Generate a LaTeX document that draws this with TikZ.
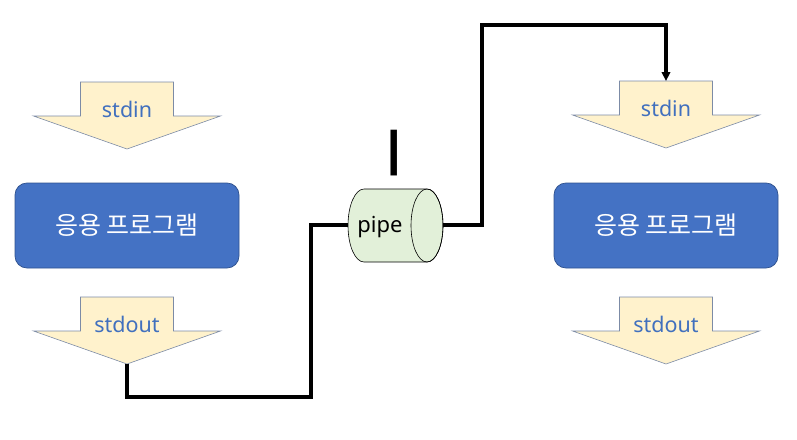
\documentclass[tikz,border=0pt]{standalone}
\usepackage{fontspec}
\setmainfont{Noto Sans CJK KR}
\newfontfamily\latinfont{Noto Sans}
\usepackage{tikz}
\usetikzlibrary{calc,arrows.meta}
\usepackage{xcolor}
\definecolor{streamfill}{HTML}{FFF2CC}
\definecolor{streamline}{HTML}{7C8BA6}
\definecolor{streamtext}{HTML}{4170BE}
\definecolor{appfill}{HTML}{4472C4}
\definecolor{appline}{HTML}{2F528F}
\definecolor{pipefill}{HTML}{E2F0D9}

\begin{document}
\begin{tikzpicture}[x=1pt,y=-1pt,
  flowarrow/.style={fill=streamfill,draw=streamline,line width=0.6pt},
  streamlabel/.style={inner sep=0pt,anchor=base,text=streamtext,font=\latinfont\fontsize{21.5}{24}\selectfont},
  appbox/.style={rectangle,rounded corners=12pt,fill=appfill,draw=appline,line width=0.75pt,
    minimum width=224pt,minimum height=85pt,text=white,font=\fontsize{25}{28}\selectfont},
  pipeline/.style={line width=3.2pt}]
  \useasboundingbox (0,0) rectangle (797,439);
  % stdin / stdout arrows
  \foreach \nm/\cx/\ty/\txt in {inL/127/82/stdin, outL/127/297/stdout, inR/666/81/stdin, outR/666/297/stdout}{
    \draw[flowarrow] (\cx-46.5,\ty) -- (\cx+46.5,\ty) -- (\cx+46.5,\ty+34) -- (\cx+93.5,\ty+34)
      -- (\cx,\ty+67) -- (\cx-93.5,\ty+34) -- (\cx-46.5,\ty+34) -- cycle;
    \node[streamlabel] (\nm) at (\cx,\ty+35) {\txt};
    \coordinate (\nm-top) at (\cx,\ty);
    \coordinate (\nm-tip) at (\cx,\ty+67);
  }
  % programs
  \node[appbox] (appL) at (127,225.5) {응용 프로그램};
  \node[appbox] (appR) at (666,225.5) {응용 프로그램};
  % the pipe
  \draw[fill=pipefill,line width=0.6pt] (364,189) -- (427,189)
    arc[start angle=270,end angle=450,x radius=16,y radius=36.5] -- (364,262)
    arc[start angle=90,end angle=270,x radius=16,y radius=36.5] -- cycle;
  \draw[line width=0.6pt] (427,225.5) ellipse[x radius=16,y radius=36.5];
  \node[inner sep=0pt,font=\latinfont\fontsize{22}{24}\selectfont] (pipe) at (380,227) {pipe};
  \node[inner sep=0pt,font=\fontsize{40}{42}\bfseries\selectfont] (bar) at (394.5,153) {\scalebox{1.4}[1]{|}};
  \coordinate (pipeL) at (348,225);
  \coordinate (pipeR) at (443,225);
  \coordinate (bendL) at (311,397);
  \coordinate (bendR) at (482,25);
  % connectors
  \draw[pipeline] (outL-tip) |- (bendL) |- (pipeL);
  \draw[pipeline,-{Triangle[length=9pt,width=8.5pt]}] (pipeR) -| (bendR) -| (inR-top);
\end{tikzpicture}
\end{document}
